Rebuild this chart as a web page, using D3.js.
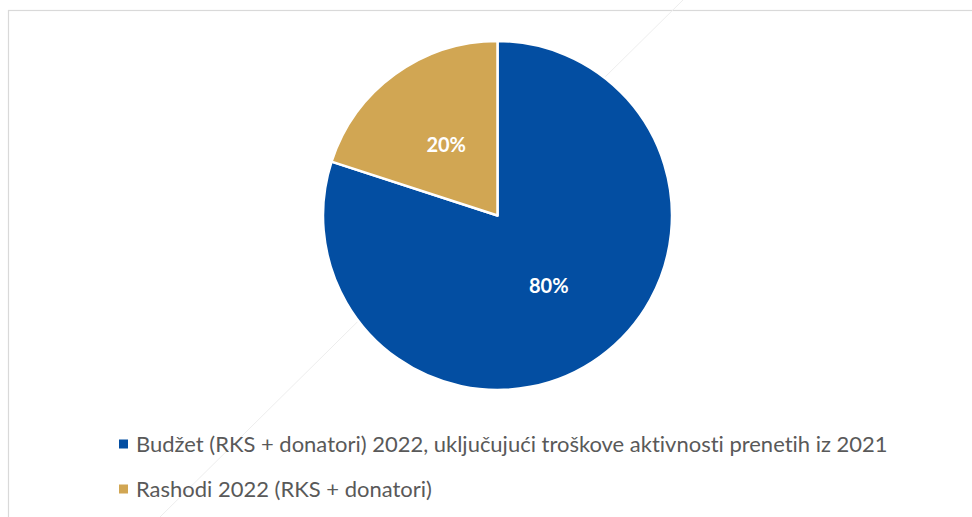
<!DOCTYPE html>
<html>
<head>
<meta charset="utf-8">
<script src="https://cdn.jsdelivr.net/npm/d3@7"></script>
<style>
  body { margin: 0; background: #fff; }
  svg { display: block; }
  text { font-variant-ligatures: none; }
</style>
</head>
<body>
<div id="chart"></div>
<script>
const categories = [
  'Budžet (RKS + donatori) 2022, uključujući troškove aktivnosti prenetih iz 2021',
  'Rashodi 2022 (RKS + donatori)'
];
const shares = [80, 20];
const colors = ['#034ea2', '#d1a653'];

const width = 972, height = 517;
const cx = 497.5, cy = 215.5, radius = 174.5;

const svg = d3.select('#chart')
  .append('svg')
    .attr('width', width)
    .attr('height', height);

// chart area border (runs off right / bottom)
svg.append('rect')
  .attr('x', 8.5).attr('y', 10.5)
  .attr('width', 1000).attr('height', 1000)
  .attr('fill', 'none')
  .attr('stroke', '#d9d9d9')
  .attr('stroke-width', 1.2);

// faint diagonal artifact behind the pie
svg.append('line')
  .attr('x1', 686).attr('y1', -3)
  .attr('x2', 158).attr('y2', 519)
  .attr('stroke', '#ededed')
  .attr('stroke-width', 1);

const data = categories.map((c, i) => ({name: c, value: shares[i], color: colors[i]}));

const pie = d3.pie().sort(null).value(d => d.value);
const arc = d3.arc().innerRadius(0).outerRadius(radius);

const g = svg.append('g')
  .attr('transform', `translate(${cx}, ${cy})`);

g.selectAll('path')
  .data(pie(data))
  .enter().append('path')
    .attr('d', arc)
    .attr('fill', d => d.data.color)
    .attr('stroke', '#fff')
    .attr('stroke-width', 2.5)
    .attr('stroke-linejoin', 'round');

g.selectAll('text.pct')
  .data(pie(data))
  .enter().append('text')
    .attr('class', 'pct')
    .attr('transform', d => {
      const [x, y] = arc.centroid(d);
      return `translate(${x}, ${y})`;
    })
    .attr('text-anchor', 'middle')
    .attr('dy', '0.36em')
    .attr('fill', '#fff')
    .attr('font-family', 'Lato, "Open Sans", sans-serif')
    .attr('font-weight', 'bold')
    .attr('font-size', 20)
    .text(d => d.data.value + '%');

// legend
const legendY = [444, 489];
const legend = svg.selectAll('g.legend')
  .data(data)
  .enter().append('g')
    .attr('class', 'legend')
    .attr('transform', (d, i) => `translate(119, ${legendY[i]})`);

legend.append('rect')
  .attr('x', 0).attr('y', -4.5)
  .attr('width', 9).attr('height', 9)
  .attr('fill', d => d.color);

const labels = legend.append('text')
  .attr('x', 17)
  .attr('dy', '0.35em')
  .attr('fill', '#595959')
  .attr('font-family', 'Lato, "Open Sans", sans-serif')
  .attr('font-size', 19)
  .text(d => d.name);

// fit the long label to the measured width of the reference
const target = 752;
const w0 = labels.nodes()[0].getComputedTextLength();
labels.attr('font-size', 19 * target / w0);
</script>
</body>
</html>
